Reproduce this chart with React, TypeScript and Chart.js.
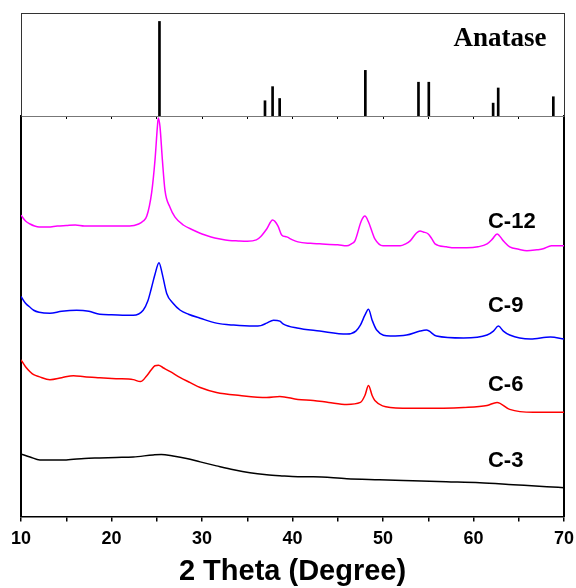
import React, { useEffect, useRef } from "react";
import { Chart, registerables } from "chart.js";

Chart.register(...registerables);

// Anatase reference pattern (relative intensity, % of panel height)
const stickAngles = [25.3, 36.96, 37.8, 38.58, 48.05, 53.92, 55.06, 62.17, 62.73, 68.82];
const stickIntensities = [91.8, 14.8, 28.5, 17, 44.3, 32.8, 32.8, 12.5, 27.2, 18.7];

// Measured patterns (offset intensity, a.u.)
const c12Angles = [10, 10.5, 11, 11.5, 12, 13, 14, 15, 16, 17, 18, 19, 20, 21, 22, 23, 23.5, 23.9, 24.44, 24.81, 25.07, 25.17, 25.36, 25.62, 25.91, 26.46, 27.02, 27.93, 29, 30, 31, 32, 33, 34, 35, 36, 36.5, 37.15, 37.8, 38.4, 38.8, 39.36, 40, 40.6, 42, 43, 45, 46, 46.5, 46.9, 47.6, 48.0, 48.4, 48.8, 49.1, 50, 51, 51.9, 52.5, 53, 53.7, 54.1, 54.45, 55, 55.4, 55.75, 57, 58, 59.25, 60.5, 61.5, 62.1, 62.6, 63.3, 64, 65, 65.9, 67, 67.7, 68.6, 69.3, 70];
const c12Values = [303, 297, 294, 292, 291, 291, 292, 292.5, 293, 292, 292, 292, 292, 292, 292, 294, 297, 302, 326, 359, 392, 401, 392, 359, 328, 311, 301, 293, 288, 284, 281, 279, 277.5, 277, 276.7, 278, 281.5, 289, 298, 292, 283, 281, 278, 276, 274.5, 274, 273, 272, 274, 277, 297, 302, 296, 286, 279, 272, 272, 272, 274, 277, 285, 287, 286, 284, 279, 274, 271, 270, 270, 271, 274, 279, 284, 277, 271, 268.5, 267, 268, 269, 272, 272, 272];

const c9Angles = [10, 10.5, 11, 11.4, 12, 13.2, 14.5, 16.15, 17.5, 18.7, 20, 22.4, 23.5, 24.0, 24.4, 24.8, 25.25, 25.6, 26.1, 26.8, 27.6, 28.5, 29.8, 31.6, 33.5, 35.7, 36.5, 37.15, 37.9, 38.6, 39.0, 40.5, 43.0, 46.0, 47.0, 47.5, 48.0, 48.4, 48.8, 49.3, 50.8, 52.6, 54.1, 54.8, 55.9, 58.9, 61.5, 62.2, 62.75, 63.3, 64, 66.3, 68.5, 70];
const c9Values = [221, 214, 210, 207, 205, 204, 206, 207, 206, 203, 202.5, 202, 207, 216, 229, 243, 255, 244, 224, 214, 207, 203, 199, 194, 192, 191, 191.5, 194, 197, 196, 193, 189, 186, 183, 186, 192, 202, 208, 197, 187, 181, 182, 186, 187, 181, 179, 182, 186, 191, 186, 182, 178, 180, 178];

const c6Angles = [10, 10.5, 11, 11.4, 12, 13.2, 14.5, 15.8, 17, 18.7, 20.5, 22.4, 23.2, 23.9, 24.4, 24.8, 25.2, 25.7, 26.5, 27.6, 28.7, 29.8, 31.6, 34.2, 37.15, 38.6, 40.6, 42.3, 44, 46.0, 47.5, 48.0, 48.4, 48.8, 49.1, 50.8, 54.1, 58.9, 61.5, 62.6, 64, 66.6, 70];
const c6Values = [157, 150, 145, 142, 140, 137, 139, 141, 140, 139, 138, 137, 135, 141, 147, 151, 151.5, 149, 145, 139, 134, 129, 124, 121, 119, 120, 117, 116, 114, 112, 114, 121, 131, 121, 116, 109, 108, 109, 111, 114, 107, 104, 104];

const c3Angles = [10, 11, 12.1, 13.5, 15.0, 17, 18.7, 20.5, 22.4, 24.6, 25.5, 26.8, 28.3, 29.8, 31.6, 33.5, 35.3, 37.15, 38.6, 40.6, 42.3, 46.0, 49.6, 53.3, 57.0, 60.7, 64.4, 68.1, 70];
const c3Values = [62, 59, 56, 56, 56, 57.5, 58, 58.5, 59, 61, 61.5, 60, 57.5, 54, 50, 46, 43, 41, 40, 39, 39, 37, 36, 35, 34, 33, 31, 29, 28];

const sampleNames = ["C-12", "C-9", "C-6", "C-3"];
const sampleColors = ["#ff00ff", "#0000ff", "#ff0000", "#000000"];
const sampleLabelLevels = [296, 211, 132, 54.5];
const sampleLabelAngle = 61.6;

const xTickLabels = ["10", "20", "30", "40", "50", "60", "70"];

const pairs = (xs: number[], ys: number[]) => xs.map((x, i) => ({ x, y: ys[i] }));

const sampleLabelPlugin = {
  id: "sampleLabels",
  afterDatasetsDraw(chart: any) {
    const { ctx, scales } = chart;
    ctx.save();
    ctx.font = 'bold 22px "Liberation Sans", Arial, sans-serif';
    ctx.fillStyle = "#000";
    ctx.textAlign = "left";
    ctx.textBaseline = "middle";
    sampleNames.forEach((n, i) => {
      ctx.fillText(n, scales.x.getPixelForValue(sampleLabelAngle), scales.y.getPixelForValue(sampleLabelLevels[i]));
    });
    ctx.restore();
  },
};

const phaseLabelPlugin = {
  id: "phaseLabel",
  afterDatasetsDraw(chart: any) {
    const { ctx, scales } = chart;
    ctx.save();
    ctx.font = 'bold 27px "Liberation Serif", "Times New Roman", serif';
    ctx.fillStyle = "#000";
    ctx.textAlign = "right";
    ctx.textBaseline = "middle";
    ctx.fillText("Anatase", scales.x.getPixelForValue(68.07), scales.y.getPixelForValue(75.2));
    ctx.restore();
  },
};

const hiddenAxis = (pos: string, min: number, max: number, color: string, width: number) => ({
  type: "linear",
  position: pos,
  min,
  max,
  ticks: { display: false },
  grid: { display: false, drawTicks: false },
  border: { display: true, color, width },
});

export default function App() {
  const topRef = useRef<HTMLCanvasElement>(null);
  const botRef = useRef<HTMLCanvasElement>(null);

  useEffect(() => {
    const series = [
      pairs(c12Angles, c12Values),
      pairs(c9Angles, c9Values),
      pairs(c6Angles, c6Values),
      pairs(c3Angles, c3Values),
    ];
    const bottom = new Chart(botRef.current!, {
      type: "line",
      data: {
        datasets: series.map((d, i) => ({
          label: sampleNames[i],
          data: d,
          borderColor: sampleColors[i],
          borderWidth: 1.5,
          pointRadius: 0,
          cubicInterpolationMode: "monotone",
          fill: false,
        })),
      },
      options: {
        animation: false,
        responsive: true,
        maintainAspectRatio: false,
        layout: { padding: { left: 21, right: 12, top: 116, bottom: 0 } },
        plugins: { legend: { display: false }, tooltip: { enabled: false } },
        scales: {
          x: {
            type: "linear",
            position: "bottom",
            min: 10,
            max: 70,
            afterFit: (scale: any) => {
              scale.paddingLeft = 0;
              scale.paddingRight = 0;
            },
            ticks: {
              stepSize: 5,
              autoSkip: false,
              maxRotation: 0,
              padding: 7,
              color: "#000",
              font: { family: '"Liberation Sans", Arial, sans-serif', size: 18, weight: "bold" },
              callback: (v: any) => (xTickLabels.includes(String(v)) ? String(v) : ""),
            },
            grid: { display: true, drawOnChartArea: false, drawTicks: true, tickLength: 5, color: "#000", lineWidth: 1.5 },
            border: { display: true, color: "#000", width: 1.5 },
            title: {
              display: true,
              text: "2 Theta (Degree)",
              color: "#000",
              font: { family: '"Liberation Sans", Arial, sans-serif', size: 29, weight: "bold", lineHeight: 1.0 },
              padding: { top: 0, bottom: 2 },
            },
          },
          y: hiddenAxis("left", -1, 403, "#000", 2),
          y2: hiddenAxis("right", -1, 403, "#000", 2),
        } as any,
      },
      plugins: [sampleLabelPlugin],
    } as any);

    const top = new Chart(topRef.current!, {
      type: "bar",
      data: {
        datasets: [
          {
            label: "Anatase",
            data: pairs(stickAngles, stickIntensities),
            backgroundColor: "#000",
            borderWidth: 0,
            barThickness: 2,
          },
        ],
      },
      options: {
        animation: false,
        responsive: true,
        maintainAspectRatio: false,
        layout: { padding: { left: 21, right: 12, top: 13, bottom: 0 } },
        plugins: { legend: { display: false }, tooltip: { enabled: false } },
        scales: {
          x: {
            type: "linear",
            position: "bottom",
            min: 10,
            max: 70,
            offset: false,
            ticks: { display: false, stepSize: 5 },
            grid: { display: true, offset: false, drawOnChartArea: false, drawTicks: true, tickLength: 3, color: "#000", lineWidth: 1 },
            border: { display: true, color: "#777", width: 1 },
          },
          x2: hiddenAxis("top", 10, 70, "#333", 1),
          y: hiddenAxis("left", 0, 100, "#333", 1),
          y2: hiddenAxis("right", 0, 100, "#333", 1),
        } as any,
      },
      plugins: [phaseLabelPlugin],
    } as any);

    return () => {
      bottom.destroy();
      top.destroy();
    };
  }, []);

  return (
    <div style={{ position: "absolute", left: 0, top: 0, width: 576, height: 588, background: "#fff" }}>
      <div style={{ position: "absolute", left: 0, top: 0, width: 576, height: 588 }}>
        <canvas ref={botRef} />
      </div>
      <div style={{ position: "absolute", left: 0, top: 0, width: 576, height: 119 }}>
        <canvas ref={topRef} />
      </div>
    </div>
  );
}
